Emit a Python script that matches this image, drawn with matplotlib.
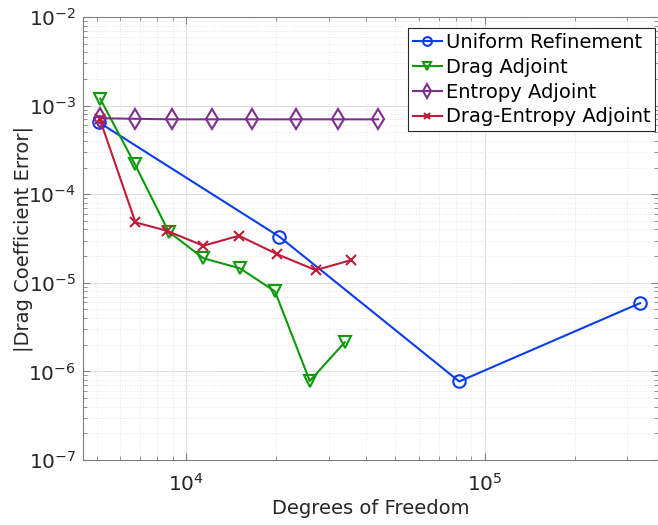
import numpy as np
import matplotlib
matplotlib.use("Agg")
import matplotlib.pyplot as plt
from matplotlib.ticker import LogLocator, NullFormatter


# Degrees of freedom and |drag coefficient error| for each refinement strategy
dof_uniform = [5100, 20500, 82000, 331000]
err_uniform = [6.45e-4, 3.31e-5, 7.7e-7, 5.9e-6]

dof_drag = [5140, 6700, 8720, 11400, 15100, 19800, 25900, 33900]
err_drag = [1.20e-3, 2.22e-4, 3.77e-5, 1.89e-5, 1.46e-5, 8.0e-6, 7.8e-7, 2.13e-6]

dof_entropy = [5130, 6700, 8960, 12200, 16600, 23200, 32100, 43900]
err_entropy = [7.2e-4, 7.1e-4, 7.0e-4, 7.0e-4, 7.0e-4, 7.0e-4, 7.0e-4, 7.0e-4]

dof_drag_entropy = [5130, 6750, 8590, 11400, 15000, 20100, 27100, 35700]
err_drag_entropy = [7.0e-4, 4.81e-5, 3.87e-5, 2.62e-5, 3.40e-5, 2.11e-5, 1.39e-5, 1.81e-5]

labels = ["Uniform Refinement", "Drag Adjoint", "Entropy Adjoint",
          "Drag-Entropy Adjoint"]


# -----------------------------------------------------------------------------
def main():
    plt.rcParams['font.family'] = ['DejaVu Sans']
    fig = plt.figure(figsize=(6.58, 5.25), dpi=100)
    ax = fig.add_axes([0.126, 0.1238, 0.874, 0.8438])

    lw = 1.5
    ms = 9
    ax.plot(dof_uniform, err_uniform, color='#0A3CF0', lw=lw, marker='o',
            ms=ms, mfc='none', mew=1.5, label=labels[0])
    ax.plot(dof_drag, err_drag, color='#0A9A0A', lw=lw, marker='v',
            ms=ms, mfc='none', mew=1.5, label=labels[1])
    ax.plot(dof_entropy, err_entropy, color='#7E2F8E', lw=lw, marker='d',
            ms=ms + 1, mfc='none', mew=1.5, label=labels[2])
    ax.plot(dof_drag_entropy, err_drag_entropy, color='#C01C3A', lw=lw,
            marker='x', ms=7, mew=1.5, label=labels[3])

    ax.set_xscale('log')
    ax.set_yscale('log')
    ax.set_xlim(4.5e3, 3.8e5)
    ax.set_ylim(1e-7, 1e-2)

    ax.xaxis.set_major_locator(LogLocator(base=10, numticks=10))
    ax.yaxis.set_major_locator(LogLocator(base=10, numticks=10))
    ax.xaxis.set_minor_locator(LogLocator(base=10, subs=np.arange(2, 10),
                                          numticks=20))
    ax.yaxis.set_minor_locator(LogLocator(base=10, subs=np.arange(2, 10),
                                          numticks=20))
    ax.xaxis.set_minor_formatter(NullFormatter())
    ax.yaxis.set_minor_formatter(NullFormatter())

    ax.grid(True, which='major', color='#E0E0E0', lw=0.8, ls='-')
    ax.grid(True, which='minor', color='#E6E6E6', lw=0.7, ls=':')
    ax.set_axisbelow(True)

    ax.tick_params(which='both', direction='in', top=True, right=True,
                   colors='#808080', labelcolor='#262626')
    ax.tick_params(which='major', length=5, labelsize=14.5)
    ax.tick_params(axis='x', which='major', pad=9)
    ax.tick_params(axis='y', which='major', pad=5)
    ax.tick_params(which='minor', length=3)
    for s in ax.spines.values():
        s.set_color('#808080')

    ax.set_xlabel('Degrees of Freedom', fontsize=14, color='#262626',
                  labelpad=3)
    ax.set_ylabel('|Drag Coefficient Error|', fontsize=14, color='#262626')
    ax.yaxis.set_label_coords(-0.087, 0.5)

    leg = ax.legend(loc='upper right', bbox_to_anchor=(0.995, 0.975),
                    fontsize=14, handlelength=1.5,
                    handletextpad=0.2, borderpad=0.25, labelspacing=0.3,
                    markerscale=0.7, fancybox=False, framealpha=1,
                    borderaxespad=0.0)
    leg.get_frame().set_edgecolor('#262626')
    leg.get_frame().set_linewidth(0.8)

    fig.savefig('out.png', dpi=100)


# -----------------------------------------------------------------------------
if __name__ == "__main__":
    main()
